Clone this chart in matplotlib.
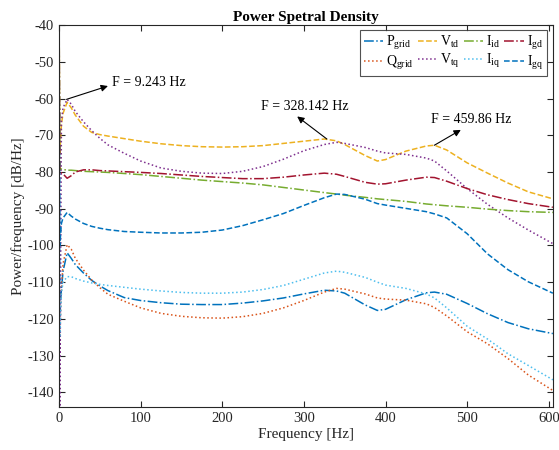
import matplotlib.pyplot as plt
import numpy as np

plt.rcParams['font.family'] = 'Liberation Serif'
plt.rcParams['mathtext.fontset'] = 'custom'
plt.rcParams['mathtext.rm'] = 'Liberation Serif'
plt.rcParams['mathtext.it'] = 'Liberation Serif:italic'
plt.rcParams['axes.unicode_minus'] = False

# frequency axis [Hz]
freq = [0, 1, 3, 5, 10, 15, 20, 30, 40, 50, 60, 80, 100, 125, 150, 175, 200, 225, 250,
        275, 300, 325, 340, 350, 375, 390, 400, 425, 450, 460, 475, 500, 525, 550, 575, 605]

# PSD values [dB/Hz]
p_grid = [-30, -118, -112, -107, -102, -103.5, -105.2, -107.5, -109.5, -111, -112.3, -114.2, -115,
          -115.6, -116, -116.1, -116.1, -115.7, -115.1, -114.3, -113.2, -112.2, -112.4, -113,
          -116.2, -117.7, -117.4, -114.8, -112.9, -112.7, -113.3, -115.8, -118.6, -121, -122.7, -124]
q_grid = [-30, -125, -112, -105, -99.8, -101, -103.5, -106.7, -109.4, -111.5, -113.3, -115.2, -117,
          -118.5, -119.3, -119.7, -119.8, -119.4, -118.5, -117, -115, -112.7, -111.7, -111.9,
          -113.2, -114.3, -114.6, -114.9, -115.9, -116.9, -119.2, -123.5, -126.8, -130.8, -135.3, -139.5]
v_td = [-30, -75, -67, -64, -61, -62.5, -64.5, -67.5, -69.2, -69.8, -70.2, -70.9, -71.6,
        -72.3, -72.8, -73.1, -73.2, -73.1, -72.8, -72.2, -71.6, -71, -71.5, -72.5,
        -75.5, -77, -76.6, -74.3, -72.9, -72.7, -74, -77.5, -80.3, -83, -85.4, -87.3]
v_tq = [-30, -150, -66, -62.5, -60.2, -61.5, -63.5, -66.3, -68.7, -70.8, -72.6, -74.9, -77,
        -78.9, -79.8, -80.3, -80.4, -79.8, -78.5, -76.5, -74.2, -72.5, -71.9, -72.2,
        -73.3, -74.3, -74.8, -75.2, -76.2, -77, -79.7, -84.5, -88.8, -92.5, -95.8, -99.5]
i_id = [-30, -79, -79.2, -79.3, -79.5, -79.5, -79.6, -79.8, -79.9, -80, -80.1, -80.4, -80.7,
        -81.2, -81.7, -82.2, -82.6, -83, -83.5, -84.2, -84.9, -85.6, -86, -86.3,
        -86.9, -87.3, -87.5, -88, -88.7, -88.9, -89.2, -89.6, -90.1, -90.5, -90.8, -91]
i_iq = [-30, -125, -113, -110, -108.5, -108.5, -109, -109.7, -110.2, -110.6, -110.9, -111.4, -111.9,
        -112.4, -112.8, -113, -113, -112.7, -112, -110.9, -109.2, -107.5, -107, -107.3,
        -108.7, -110, -110.8, -111.7, -113.2, -114.3, -117, -122, -125.5, -129.5, -132.7, -136.6]
i_gd = [-30, -80, -80.2, -80.5, -81.7, -81, -80, -79.4, -79.4, -79.6, -79.7, -79.9, -80.1,
        -80.4, -80.8, -81.2, -81.5, -81.8, -81.8, -81.4, -80.8, -80.3, -80.6, -81.2,
        -82.8, -83.3, -83.2, -82.2, -81.4, -81.5, -82.5, -84.5, -86.2, -87.5, -88.6, -89.6]
i_gq = [-30, -100, -94, -92.5, -91, -92, -92.8, -94, -94.8, -95.3, -95.7, -96.2, -96.4,
        -96.6, -96.6, -96.4, -95.8, -94.6, -93, -91.3, -89.1, -87, -86, -86.1,
        -87.4, -88.6, -89, -89.9, -90.8, -91.4, -92.5, -96.8, -102.3, -106.6, -109.9, -113]

fig = plt.figure(figsize=(5.59, 4.5), dpi=100)
ax = fig.add_axes([0.1055, 0.0956, 0.8835, 0.8484])

series = [
    (p_grid, '#0072BD', '-.', r'P$_{\rm grid}$'),
    (q_grid, '#D95319', ':', r'Q$_{\rm grid}$'),
    (v_td, '#EDB120', '--', r'V$_{\rm td}$'),
    (v_tq, '#7E2F8E', ':', r'V$_{\rm tq}$'),
    (i_id, '#77AC30', '-.', r'I$_{\rm id}$'),
    (i_iq, '#4DBEEE', ':', r'I$_{\rm iq}$'),
    (i_gd, '#A2142F', '-.', r'I$_{\rm gd}$'),
    (i_gq, '#0072BD', '--', r'I$_{\rm gq}$'),
]
for vals, col, ls, lab in series:
    ax.plot(freq, vals, color=col, linestyle=ls, lw=1.1, label=lab)

ax.set_xlim(0, 605)
ax.set_ylim(-144, -40)
ax.set_xticks([0, 100, 200, 300, 400, 500, 600])
ax.set_yticks(np.arange(-140, -39, 10))
ax.tick_params(direction='in', top=True, right=True, labelsize=10.5, length=4, width=0.8,
               color='#262626', labelcolor='#262626')
for s in ax.spines.values():
    s.set_linewidth(0.8)
    s.set_color('#262626')

ax.set_title('Power Spetral Density', fontsize=11, fontweight='bold', pad=3)
ax.set_xlabel('Frequency [Hz]', fontsize=11, color='#262626', labelpad=2)
ax.set_ylabel('Power/frequency [dB/Hz]', fontsize=11, color='#262626', labelpad=2)

leg = ax.legend(ncol=4, loc='upper right', fontsize=10, frameon=True, fancybox=False,
                edgecolor='#262626', borderaxespad=0.35, handlelength=1.4, handletextpad=0.2,
                columnspacing=0.3, labelspacing=0.2, borderpad=0.25,
                bbox_to_anchor=(0.997, 1.0))
leg.get_frame().set_linewidth(0.8)

arw = dict(arrowstyle='<|-', color='black', lw=0.8, mutation_scale=10, shrinkA=1, shrinkB=0)
ax.annotate('F = 9.243 Hz', xy=(9.243, -60.2), xytext=(65, -55.5), fontsize=10,
            va='center', ha='left', arrowprops=dict(arw, relpos=(0.0, 0.3)))
ax.annotate('F = 328.142 Hz', xy=(328.142, -71.0), xytext=(301, -62.1), fontsize=10,
            va='center', ha='center', arrowprops=dict(arw, relpos=(0.36, 0.0)))
ax.annotate('F = 459.86 Hz', xy=(459.86, -72.7), xytext=(505.5, -65.8), fontsize=10,
            va='center', ha='center', arrowprops=dict(arw, relpos=(0.44, 0.0)))

fig.savefig('out.png', dpi=100)
